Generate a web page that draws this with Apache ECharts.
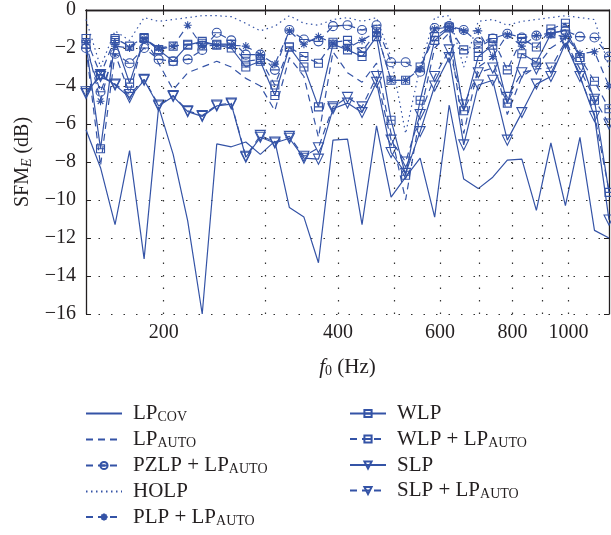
<!DOCTYPE html>
<html><head><meta charset="utf-8">
<script src="https://cdn.jsdelivr.net/npm/echarts@6/dist/echarts.min.js"></script>
<style>html,body{margin:0;padding:0;background:#fff}#c{width:611px;height:535px}</style>
</head><body><div id="c"></div><script>
// f0 grid: semitones D3..D6 (Hz)
const freqs = [146.83,155.56,164.81,174.61,185.00,196.00,207.65,220.00,233.08,246.94,261.63,277.18,293.66,311.13,329.63,349.23,369.99,392.00,415.30,440.00,466.16,493.88,523.25,554.37,587.33,622.25,659.26,698.46,739.99,783.99,830.61,880.00,932.33,987.77,1046.50,1108.73,1174.66];
const lpCov = [-6.3,-8.3,-11.3,-7.4,-13.1,-5.1,-7.6,-11.1,-16.0,-7.05,-7.2,-6.95,-7.6,-6.9,-10.4,-10.9,-13.3,-6.85,-6.8,-11.3,-6.1,-9.85,-8.8,-7.8,-10.9,-5.0,-8.9,-9.4,-8.8,-7.9,-7.85,-10.55,-7.0,-10.3,-6.7,-11.6,-12.0];
const lpAuto = [-2.0,-8.2,-2.3,-4.4,-1.4,-2.8,-4.2,-3.3,-3.0,-2.7,-3.0,-3.6,-4.0,-5.3,-2.5,-3.5,-6.7,-2.2,-3.3,-3.8,-2.8,-6.5,-10.0,-5.5,-2.0,-1.2,-6.5,-3.0,-2.5,-5.5,-3.5,-3.0,-2.0,-1.5,-3.5,-5.5,-9.5];
const pzlpAuto = [-2.0,-4.3,-2.3,-2.8,-2.0,-2.6,-2.7,-2.6,-2.1,-1.2,-1.6,-2.35,-2.35,-3.15,-1.05,-1.55,-1.65,-0.85,-0.8,-1.05,-0.8,-2.75,-2.75,-3.25,-0.95,-0.85,-1.05,-1.7,-1.5,-1.25,-1.45,-1.35,-1.2,-1.1,-1.4,-1.45,-2.45];
const holp = [-0.5,-3.0,-1.1,-1.6,-0.4,-0.6,-0.5,-0.4,-0.3,-0.3,-0.35,-0.7,-1.1,-0.85,-0.3,-0.7,-0.8,-0.5,-0.4,-0.6,-0.4,-2.5,-6.5,-3.0,-0.4,-0.3,-3.0,-0.6,-0.5,-0.8,-0.6,-0.5,-0.4,-0.3,-0.4,-0.5,-3.0];
const plpAuto = [-1.7,-4.8,-1.9,-2.0,-1.5,-2.0,-1.9,-0.8,-1.9,-1.85,-1.85,-1.9,-2.35,-2.85,-1.1,-1.8,-1.4,-1.75,-2.0,-1.6,-1.15,-3.7,-3.7,-3.1,-1.0,-0.9,-1.1,-1.1,-2.45,-1.3,-1.9,-1.35,-1.3,-1.4,-2.3,-2.2,-4.0];
const wlp = [-1.8,-7.3,-1.6,-3.85,-1.5,-2.1,-2.7,-1.85,-1.65,-1.85,-2.0,-3.0,-2.7,-4.5,-1.95,-3.0,-5.1,-1.8,-2.1,-2.45,-1.4,-5.8,-8.7,-4.75,-1.6,-0.95,-5.3,-2.45,-1.85,-4.9,-2.3,-2.75,-1.25,-1.05,-2.5,-4.75,-9.6];
const wlpAuto = [-1.5,-3.4,-1.5,-1.9,-1.45,-2.1,-1.9,-1.8,-1.75,-1.8,-1.8,-2.7,-2.6,-3.95,-1.95,-2.45,-2.8,-1.7,-1.6,-2.2,-1.15,-3.7,-3.7,-3.0,-1.4,-0.9,-2.1,-2.0,-1.5,-3.15,-1.5,-1.95,-1.0,-0.7,-2.5,-3.75,-5.2];
const slp = [-4.4,-3.4,-3.95,-4.6,-3.7,-5.05,-4.55,-5.35,-5.6,-5.05,-4.95,-7.75,-6.7,-7.0,-6.75,-7.8,-7.85,-5.2,-4.9,-5.4,-3.8,-7.5,-8.6,-6.4,-4.0,-2.5,-7.1,-3.95,-3.7,-6.85,-5.4,-3.9,-3.5,-1.75,-3.5,-5.6,-11.05];
const slpAuto = [-4.3,-3.5,-3.9,-4.45,-3.65,-5.0,-4.5,-5.3,-5.55,-5.0,-4.9,-7.7,-6.6,-6.95,-6.65,-7.7,-7.25,-5.1,-4.6,-5.1,-3.5,-6.85,-8.0,-5.5,-3.5,-2.1,-5.0,-3.3,-3.05,-4.6,-3.3,-3.1,-3.05,-1.65,-3.1,-4.7,-6.0];
const xTickValues = [200,300,400,500,600,700,800,900,1000];
const xLabelValues = [200,400,600,800,1000];

const BLUE = '#3453a6';
const INK = '#231f20';
const FONT = '"Liberation Serif", "DejaVu Serif", serif';
const DASH = [7,5], DOT = [1.5,3.5], GRIDDOT = [1.5, 11];
const SYM = {
  circ: 'path://M0,5 A5,5 0 1 1 10,5 A5,5 0 1 1 0,5 Z M0,5 L10,5',
  star: 'path://M5,0 L5,10 M0,5 L10,5 M1.5,1.5 L8.5,8.5 M1.5,8.5 L8.5,1.5',
  sq: 'path://M0,0 L10,0 L10,10 L0,10 Z M0,5 L10,5',
  tri: 'path://M0,0 L10,0 L5,8.66 Z'
};
const CLEAR = 'rgba(0,0,0,0)';
function mk(name, vals, type, symbol, size) {
  return {
    name, type: 'line', data: freqs.map((f, i) => [f, vals[i]]),
    symbol: symbol ? SYM[symbol] : 'circle', symbolSize: symbol ? (size || 9) : 0, showSymbol: !!symbol,
    lineStyle: {color: BLUE, width: 1.2, type},
    itemStyle: {color: CLEAR, borderColor: symbol ? BLUE : CLEAR, borderWidth: 1.1},
    emphasis: {disabled: true}, animation: false, z: 3
  };
}
const series = [
  mk('LPCOV', lpCov, 'solid'),
  mk('LPAUTO', lpAuto, DASH),
  mk('PZLP', pzlpAuto, DASH, 'circ', 9),
  mk('HOLP', holp, DOT),
  mk('PLP', plpAuto, DASH, 'star', 8),
  mk('WLP', wlp, 'solid', 'sq', 8),
  mk('WLPA', wlpAuto, DASH, 'sq', 8),
  mk('SLP', slp, 'solid', 'tri', 10),
  mk('SLPA', slpAuto, DASH, 'tri', 10)
];
// vertical dotted grid lines at the f0 tick values
series[0].markLine = {
  silent: true, symbol: 'none', animation: false, label: {show: false},
  lineStyle: {color: '#333', width: 1.2, type: GRIDDOT},
  emphasis: {disabled: true},
  data: xTickValues.map(v => ({xAxis: v}))
};
const legendText = {
  LPCOV: '{m|LP}{s|COV}', LPAUTO: '{m|LP}{s|AUTO}', PZLP: '{m|PZLP + LP}{s|AUTO}',
  HOLP: '{m|HOLP}', PLP: '{m|PLP + LP}{s|AUTO}', WLP: '{m|WLP}', WLPA: '{m|WLP + LP}{s|AUTO}',
  SLP: '{m|SLP}', SLPA: '{m|SLP + LP}{s|AUTO}'
};
const rich = {
  m: {fontFamily: FONT, fontSize: 21, color: INK, lineHeight: 22},
  s: {fontFamily: FONT, fontSize: 14, color: INK, lineHeight: 14, verticalAlign: 'bottom'}
};
function legend(names, left) {
  return {
    data: names, orient: 'vertical', left, top: 398, itemWidth: 36, itemHeight: 9, itemGap: 4.5,
    selectedMode: false, formatter: n => legendText[n],
    textStyle: {rich, padding: [0,0,0,6]}, inactiveColor: BLUE
  };
}
const minus = v => (v < 0 ? '\u2212' + Math.abs(v) : String(v));
const chart = echarts.init(document.getElementById('c'), null, {renderer: 'canvas'});
chart.setOption({
  animation: false,
  grid: {left: 86, right: 2, top: 10, bottom: 221, show: false},
  xAxis: [{
    type: 'log', logBase: 10, min: freqs[0], max: freqs[freqs.length - 1],
    axisLine: {lineStyle: {color: INK, width: 1.3}},
    axisTick: {inside: true, length: 5, customValues: xTickValues, lineStyle: {color: INK}},
    axisLabel: {customValues: xLabelValues, fontFamily: FONT, fontSize: 20, color: INK, margin: 9,
      formatter: v => String(Math.round(v))},
    splitLine: {show: false},
    name: '{i|f}{s|0}{m| (Hz)}', nameLocation: 'middle', nameGap: 42,
    nameTextStyle: {rich: {
      i: {fontFamily: FONT, fontSize: 21, fontStyle: 'italic', color: INK},
      s: {fontFamily: FONT, fontSize: 14, color: INK, verticalAlign: 'bottom', lineHeight: 14},
      m: {fontFamily: FONT, fontSize: 21, color: INK, lineHeight: 22}
    }}
  }, {
    type: 'log', logBase: 10, min: freqs[0], max: freqs[freqs.length - 1], position: 'top',
    axisLine: {lineStyle: {color: INK, width: 1.3}},
    axisTick: {inside: true, length: 5, customValues: xTickValues, lineStyle: {color: INK}},
    axisLabel: {show: false}, splitLine: {show: false}
  }],
  yAxis: [{
    type: 'value', min: -16, max: 0, interval: 2,
    axisLine: {show: true, lineStyle: {color: INK, width: 1.3}},
    axisTick: {show: true, inside: true, length: 5, lineStyle: {color: INK}},
    axisLabel: {fontFamily: FONT, fontSize: 20, color: INK, margin: 10, formatter: minus},
    splitLine: {show: true, lineStyle: {color: '#333', width: 1.2, type: GRIDDOT}},
    name: '{m|SFM}{s|E}{m| (dB)}', nameLocation: 'middle', nameGap: 52, nameRotate: 90,
    nameTextStyle: {rich: {
      m: {fontFamily: FONT, fontSize: 20, color: INK, lineHeight: 22},
      s: {fontFamily: FONT, fontSize: 14, fontStyle: 'italic', color: INK, verticalAlign: 'bottom', lineHeight: 14}
    }}
  }, {
    type: 'value', min: -16, max: 0, interval: 2, position: 'right',
    axisLine: {show: true, lineStyle: {color: INK, width: 1.3}},
    axisTick: {show: true, inside: true, length: 5, lineStyle: {color: INK}},
    axisLabel: {show: false}, splitLine: {show: false}
  }],
  legend: [legend(['LPCOV','LPAUTO','PZLP','HOLP','PLP'], 80), legend(['WLP','WLPA','SLP','SLPA'], 344)],
  series
});
</script></body></html>
